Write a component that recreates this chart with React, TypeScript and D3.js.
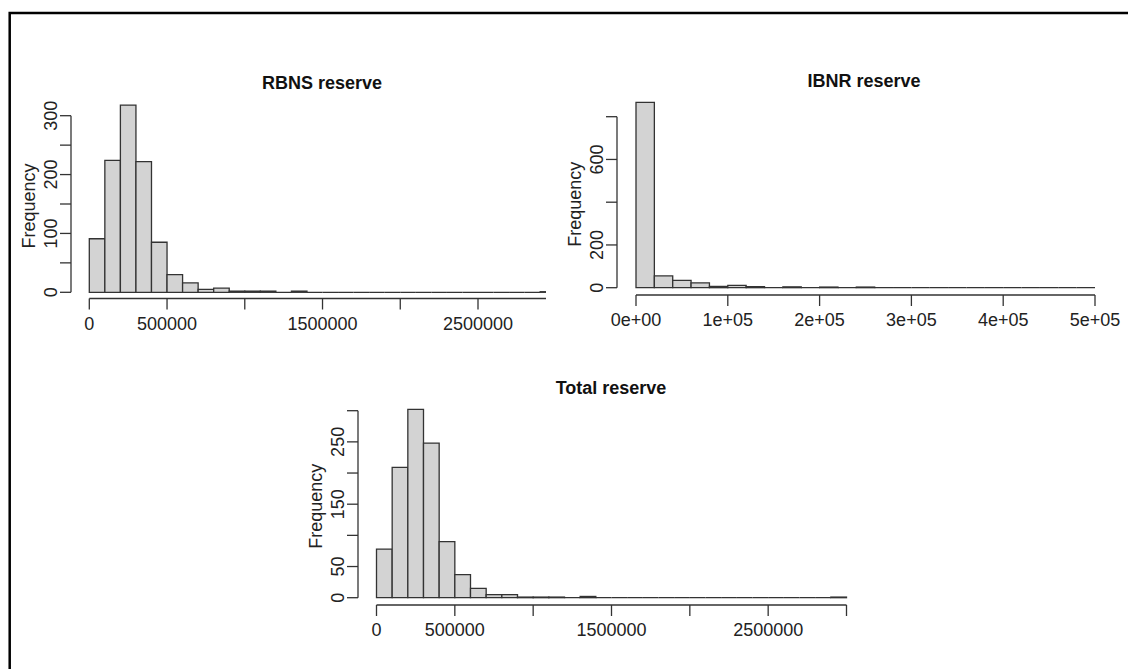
import React from "react";
import * as d3 from "d3";

// histogram counts
const rbnsCounts = [91, 224, 318, 222, 85, 30, 16, 5, 7, 2, 2, 2, 0, 2, 0, 0, 0, 0, 0, 0, 0, 0, 0, 0, 0, 0, 0, 0, 0, 1];
const ibnrCounts = [867, 55, 34, 23, 6, 11, 5, 0, 4, 0, 3, 0, 3, 0, 0, 0, 0, 0, 0, 0, 0, 0, 0, 0, 0];
const totalCounts = [78, 209, 302, 248, 90, 37, 15, 5, 5, 1, 1, 1, 0, 2, 0, 0, 0, 0, 0, 0, 0, 0, 0, 0, 0, 0, 0, 0, 0, 1];

const rbnsBin = 100000;
const ibnrBin = 20000;
const totalBin = 100000;

const reserveXTicks = [0, 500000, 1000000, 1500000, 2000000, 2500000, 3000000];
const reserveXLabels = ["0", "500000", "", "1500000", "", "2500000", ""];
const ibnrXTicks = [0, 100000, 200000, 300000, 400000, 500000];
const ibnrXLabels = ["0e+00", "1e+05", "2e+05", "3e+05", "4e+05", "5e+05"];

const rbnsYTicks = [0, 50, 100, 150, 200, 250, 300];
const rbnsYLabels = ["0", "", "100", "", "200", "", "300"];
const ibnrYTicks = [0, 200, 400, 600, 800];
const ibnrYLabels = ["0", "200", "", "600", ""];
const totalYTicks = [0, 50, 100, 150, 200, 250, 300];
const totalYLabels = ["0", "50", "", "150", "", "250", ""];

const font = "'Liberation Sans', Arial, sans-serif";
const ink = "#333";

type HistProps = {
  id: string;
  title: string;
  counts: number[];
  bin: number;
  xDomain: [number, number];
  xRange: [number, number];
  yDomain: [number, number];
  yRange: [number, number];
  xTicks: number[];
  xLabels: string[];
  yTicks: number[];
  yLabels: string[];
  axisX: number; // position of y axis line
  axisY: number; // position of x axis line
  titleX: number;
  titleY: number;
  clipRight?: number;
};

function Hist(p: HistProps) {
  const x = d3.scaleLinear().domain(p.xDomain).range(p.xRange);
  const y = d3.scaleLinear().domain(p.yDomain).range(p.yRange);
  const tick = 11;
  const clip = p.clipRight ?? 2000;
  const xEnd = Math.min(x(p.counts.length * p.bin), clip);
  const yMid = (y(p.yTicks[0]) + y(p.yTicks[p.yTicks.length - 1])) / 2;
  // bars as closed paths so empty bins still show up as a line on the baseline
  const barPath = (c: number, i: number) => {
    const x0 = x(i * p.bin);
    const x1 = x((i + 1) * p.bin);
    return `M${x0},${y(0)}V${y(c)}H${x1}V${y(0)}Z`;
  };
  return (
    <g>
      <defs>
        <clipPath id={p.id}>
          <rect x={0} y={0} width={clip} height={700} />
        </clipPath>
      </defs>
      <text x={p.titleX} y={p.titleY} textAnchor="middle" fontWeight="bold" fontSize={18} fill="#111">
        {p.title}
      </text>
      <g clipPath={`url(#${p.id})`}>
        {p.counts.map((c, i) => (
          <path key={i} d={barPath(c, i)} fill="#d3d3d3" stroke={ink} strokeWidth={1.3} />
        ))}
        <line x1={x(0)} x2={xEnd} y1={p.axisY} y2={p.axisY} stroke={ink} strokeWidth={1.3} />
        {p.xTicks.map((t, i) => (
          <g key={i}>
            <line x1={x(t)} x2={x(t)} y1={p.axisY} y2={p.axisY + tick} stroke={ink} strokeWidth={1.3} />
            <text x={x(t)} y={p.axisY + 31} textAnchor="middle" fontSize={18} fill="#222">
              {p.xLabels[i]}
            </text>
          </g>
        ))}
      </g>
      <line
        x1={p.axisX}
        x2={p.axisX}
        y1={y(p.yTicks[0])}
        y2={y(p.yTicks[p.yTicks.length - 1])}
        stroke={ink}
        strokeWidth={1.3}
      />
      {p.yTicks.map((t, i) => (
        <g key={i}>
          <line x1={p.axisX - tick} x2={p.axisX} y1={y(t)} y2={y(t)} stroke={ink} strokeWidth={1.3} />
          <text
            transform={`translate(${p.axisX - 14},${y(t)}) rotate(-90)`}
            textAnchor="middle"
            fontSize={18}
            fill="#222"
          >
            {p.yLabels[i]}
          </text>
        </g>
      ))}
      <text
        transform={`translate(${p.axisX - 36},${yMid + 2}) rotate(-90)`}
        textAnchor="middle"
        fontSize={18}
        fill="#222"
      >
        Frequency
      </text>
    </g>
  );
}

export default function App() {
  return (
    <svg
      width={1128}
      height={669}
      style={{ position: "absolute", left: 0, top: 0, background: "#fff", fontFamily: font }}
    >
      <rect x={0} y={0} width={1128} height={669} fill="#fff" />
      <rect x={9.7} y={13} width={1200} height={700} fill="none" stroke="#000" strokeWidth={2.5} />
      <Hist
        id="c-rbns"
        title="RBNS reserve"
        counts={rbnsCounts}
        bin={rbnsBin}
        xDomain={[0, 2500000]}
        xRange={[89.3, 478]}
        yDomain={[0, 300]}
        yRange={[292.3, 115.7]}
        xTicks={reserveXTicks}
        xLabels={reserveXLabels}
        yTicks={rbnsYTicks}
        yLabels={rbnsYLabels}
        axisX={71}
        axisY={298.5}
        titleX={322}
        titleY={89}
        clipRight={546}
      />
      <Hist
        id="c-ibnr"
        title="IBNR reserve"
        counts={ibnrCounts}
        bin={ibnrBin}
        xDomain={[0, 500000]}
        xRange={[636, 1095]}
        yDomain={[0, 800]}
        yRange={[287.7, 116.7]}
        xTicks={ibnrXTicks}
        xLabels={ibnrXLabels}
        yTicks={ibnrYTicks}
        yLabels={ibnrYLabels}
        axisX={617}
        axisY={295}
        titleX={864}
        titleY={87}
      />
      <Hist
        id="c-total"
        title="Total reserve"
        counts={totalCounts}
        bin={totalBin}
        xDomain={[0, 3000000]}
        xRange={[376.5, 846.5]}
        yDomain={[0, 300]}
        yRange={[597.7, 410.7]}
        xTicks={reserveXTicks}
        xLabels={reserveXLabels}
        yTicks={totalYTicks}
        yLabels={totalYLabels}
        axisX={358}
        axisY={605}
        titleX={611}
        titleY={394}
      />
    </svg>
  );
}
